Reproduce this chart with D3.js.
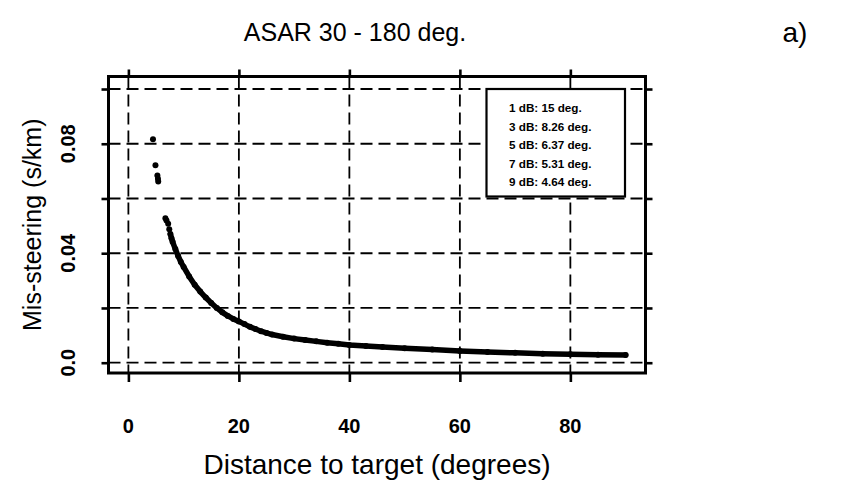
<!DOCTYPE html>
<html>
<head>
<meta charset="utf-8">
<script src="https://cdn.jsdelivr.net/npm/d3@7"></script>
<style>
  body { margin: 0; background: #fff; }
  text { font-family: "Liberation Sans", Arial, sans-serif; fill: #000; }
</style>
</head>
<body>
<div id="viz"></div>
<script>
// distance to target (deg) and mis-steering (s/km)
var DIST = [4.45, 4.9, 5.25, 5.35, 5.4,
  6.7, 6.9, 7.2, 7.4, 7.6, 7.8, 8.0, 8.5, 9, 9.5, 10, 11, 12, 13, 14, 15,
  16, 17, 18, 19, 20, 21, 22, 23, 24, 25, 26, 28, 30, 32, 34, 36, 38, 40,
  43, 46, 50, 55, 60, 65, 70, 75, 80, 85, 90];
var MISSTEER = [0.0816, 0.0721, 0.0684, 0.0672, 0.0662,
  0.0528, 0.0520, 0.0508, 0.0488, 0.0470, 0.0455, 0.0442, 0.0415, 0.0390, 0.0368, 0.0350, 0.0315, 0.0285, 0.0260, 0.0238, 0.0218,
  0.0200, 0.0184, 0.0171, 0.0160, 0.0151, 0.0141, 0.0131, 0.0123, 0.0115, 0.0109, 0.0103, 0.0095, 0.0088, 0.0083, 0.0078, 0.0073, 0.0069, 0.0065,
  0.0061, 0.0057, 0.0053, 0.0048, 0.0043, 0.0039, 0.0036, 0.0033, 0.0031, 0.0029, 0.0028];

var X_TICKS = [0, 20, 40, 60, 80];
var Y_TICKS = [0, 0.02, 0.04, 0.06, 0.08, 0.10];
var Y_LABELS = ["0.0", "", "0.04", "", "0.08", ""];
var LEGEND = ["1 dB: 15 deg.", "3 dB: 8.26 deg.", "5 dB: 6.37 deg.", "7 dB: 5.31 deg.", "9 dB: 4.64 deg."];

var SVG_WIDTH = 864, SVG_HEIGHT = 481;
var PLOT = { left: 108.5, right: 645.5, top: 76.5, bottom: 373 };

var svg = d3.select("#viz").append("svg")
    .attr("width", SVG_WIDTH)
    .attr("height", SVG_HEIGHT);

var x = d3.scaleLinear().domain([-3.6, 93.6]).range([PLOT.left, PLOT.right]);
var y = d3.scaleLinear().domain([-0.00376, 0.10457]).range([PLOT.bottom, PLOT.top]);

// dashed grid
var grid = svg.append("g")
    .attr("stroke", "#000")
    .attr("stroke-width", 1.8)
    .attr("stroke-dasharray", "12,6");

grid.selectAll("line.v").data(X_TICKS).enter().append("line")
    .attr("class", "v")
    .attr("x1", function(d){ return x(d); })
    .attr("x2", function(d){ return x(d); })
    .attr("y1", PLOT.top).attr("y2", PLOT.bottom);

grid.selectAll("line.h").data(Y_TICKS).enter().append("line")
    .attr("class", "h")
    .attr("y1", function(d){ return y(d); })
    .attr("y2", function(d){ return y(d); })
    .attr("x1", PLOT.left).attr("x2", PLOT.right);

// data: dense part drawn as a band plus the points themselves
var pts = DIST.map(function(d, i){ return [d, MISSTEER[i]]; });

svg.append("path")
    .datum(pts.filter(function(p){ return p[0] >= 7.6; }))
    .attr("fill", "none")
    .attr("stroke", "#000")
    .attr("stroke-width", 5.5)
    .attr("stroke-linejoin", "round")
    .attr("stroke-linecap", "round")
    .attr("d", d3.line()
        .x(function(p){ return x(p[0]); })
        .y(function(p){ return y(p[1]); }));

svg.selectAll("circle").data(pts).enter().append("circle")
    .attr("cx", function(p){ return x(p[0]); })
    .attr("cy", function(p){ return y(p[1]); })
    .attr("r", 3)
    .attr("fill", "#000");

// legend box (opaque)
var lg = svg.append("g");
lg.append("rect")
    .attr("x", 486.5).attr("y", 89)
    .attr("width", 138.5).attr("height", 107.5)
    .attr("fill", "#fff")
    .attr("stroke", "#000")
    .attr("stroke-width", 2.2);
lg.selectAll("text").data(LEGEND).enter().append("text")
    .attr("x", 509)
    .attr("y", function(d, i){ return 112 + i * 18.5; })
    .attr("font-size", 11.7)
    .attr("font-weight", "bold")
    .text(function(d){ return d; });

// axes: ticks on all four sides, box
var axBottom = svg.append("g").attr("transform", "translate(0," + PLOT.bottom + ")")
    .call(d3.axisBottom(x).tickValues(X_TICKS).tickSize(9).tickFormat(""));
var axTop = svg.append("g").attr("transform", "translate(0," + PLOT.top + ")")
    .call(d3.axisTop(x).tickValues(X_TICKS).tickSize(7).tickFormat(""));
var axLeft = svg.append("g").attr("transform", "translate(" + PLOT.left + ",0)")
    .call(d3.axisLeft(y).tickValues(Y_TICKS).tickSize(7).tickFormat(""));
var axRight = svg.append("g").attr("transform", "translate(" + PLOT.right + ",0)")
    .call(d3.axisRight(y).tickValues(Y_TICKS).tickSize(7).tickFormat(""));

[axBottom, axTop, axLeft, axRight].forEach(function(g){
  g.select(".domain").remove();
  g.selectAll(".tick line").attr("stroke", "#000").attr("stroke-width", 2.6);
});

svg.append("rect")
    .attr("x", PLOT.left).attr("y", PLOT.top)
    .attr("width", PLOT.right - PLOT.left)
    .attr("height", PLOT.bottom - PLOT.top)
    .attr("fill", "none")
    .attr("stroke", "#000")
    .attr("stroke-width", 3);

// tick labels
svg.selectAll("text.xl").data(X_TICKS).enter().append("text")
    .attr("class", "xl")
    .attr("x", function(d){ return x(d); })
    .attr("y", 433)
    .attr("text-anchor", "middle")
    .attr("font-size", 20)
    .attr("font-weight", "bold")
    .text(function(d){ return d; });

svg.selectAll("text.yl").data(Y_TICKS).enter().append("text")
    .attr("class", "yl")
    .attr("transform", function(d){ return "translate(75," + y(d) + ") rotate(-90)"; })
    .attr("text-anchor", "middle")
    .attr("font-size", 20)
    .attr("font-weight", "bold")
    .text(function(d, i){ return Y_LABELS[i]; });

// titles
svg.append("text")
    .attr("x", (PLOT.left + PLOT.right) / 2).attr("y", 474)
    .attr("text-anchor", "middle")
    .attr("font-size", 28)
    .text("Distance to target (degrees)");

svg.append("text")
    .attr("transform", "translate(41," + (PLOT.top + PLOT.bottom) / 2 + ") rotate(-90)")
    .attr("text-anchor", "middle")
    .attr("font-size", 25)
    .text("Mis-steering (s/km)");

svg.append("text")
    .attr("x", 355).attr("y", 41)
    .attr("text-anchor", "middle")
    .attr("font-size", 25)
    .text("ASAR 30 - 180 deg.");

svg.append("text")
    .attr("x", 795).attr("y", 42)
    .attr("text-anchor", "middle")
    .attr("font-size", 28)
    .text("a)");
</script>
</body>
</html>
